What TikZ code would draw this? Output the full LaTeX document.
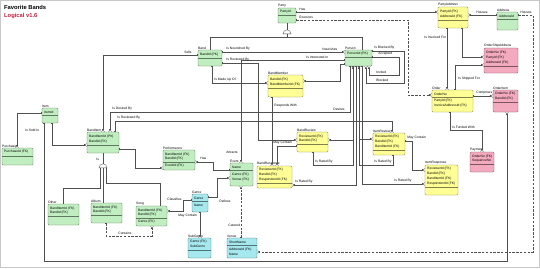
\documentclass[tikz,border=0pt]{standalone}
\usepackage{fontspec}
\setmainfont{Liberation Sans}
\usetikzlibrary{arrows.meta,fit,shapes.geometric}

\definecolor{entGreen}{RGB}{192,238,192}
\definecolor{entYellow}{RGB}{255,255,150}
\definecolor{entPink}{RGB}{244,170,190}
\definecolor{entCyan}{RGB}{165,232,238}
\definecolor{lineGray}{RGB}{80,80,80}
\definecolor{frameGray}{RGB}{200,200,200}
\definecolor{titleRed}{RGB}{190,30,60}

\newcommand{\erfont}{\fontsize{3.3}{3.8}\selectfont}

\tikzset{
  ent/.style={draw=#1!50!black, fill=#1, rounded corners=1.2pt, line width=0.4pt, inner sep=0pt},
  ename/.style={font=\erfont, anchor=south west, inner sep=0pt},
  attr/.style={font=\erfont, anchor=west, inner sep=0pt},
  rlabel/.style={font=\erfont, anchor=south west, inner sep=0.2pt},
  rel/.style={draw=lineGray, line width=0.35pt, {Bar[width=2.8pt]}-{Bar[width=2.8pt] Straight Barb[reversed,length=1.6pt,width=3.2pt]}},
  relDash/.style={rel, dash pattern=on 2.4pt off 1.4pt},
  subLink/.style={draw=lineGray, line width=0.35pt},
  subSym/.style={semicircle, draw=lineGray, line width=0.35pt, fill=white, minimum width=8pt, inner sep=0pt},
}

\begin{document}
\begin{tikzpicture}[x=1pt,y=-1pt]
  \useasboundingbox (0,0) rectangle (540,268);
  \draw[frameGray, line width=0.8pt] (0.4,0.4) rectangle (539.6,267.6);

  % title
  \node[anchor=south west, inner sep=0pt, font=\fontsize{5.8}{6}\selectfont\bfseries] (title) at (4,10) {Favorite Bands};
  \node[anchor=south west, inner sep=0pt, font=\fontsize{5.8}{6}\selectfont\bfseries, text=titleRed] (version) at (4,18.5) {Logical v1.6};

  % entities: name/left/top/right/bottom/colour/separator/title
  \foreach \nm/\xa/\ya/\xb/\yb/\col/\sy/\ttl in {
    party/278/8/296/23/entGreen/15.5/Party,
    band/198/50/222/66/entGreen/58.5/Band,
    person/345/50/372/66/entGreen/57.5/Person,
    partyAddr/438/7/468/28/entYellow/20/PartyAddress,
    address/497/12/518/30/entGreen/19.5/Address,
    orderShip/484/48/518/73/entPink/66.5/OrderShipAddress,
    order/432/90/473/112/entYellow/97/Order,
    orderItem/493/90/518/112/entPink/102/OrderItem,
    payment/470/152/494/172/entPink/164.5/Payment,
    itemResp/425/165/458/195/entYellow/187.5/ItemResponse,
    itemRev/373/133/405/155/entYellow/150.5/ItemReview,
    bandRev/297/132/328/152/entYellow/144.5/BandReview,
    bandResp/257/166/292/188/entYellow/183.5/BandResponse,
    bandMember/268/75/303/97/entYellow/88/BandMember,
    event/230/163/253/186/entGreen/170.5/Event,
    perf/163/150/195/170/entGreen/162/Performance,
    bandItem/87/132/119/153/entGreen/145.5/BandItem,
    item/42/108/58/123/entGreen/115.5/Item,
    purchase/2/148/33/165/entGreen/156/Purchase,
    other/48/204/79/225/entGreen/216.5/Other,
    album/91/203/122/223/entGreen/215.5/Album,
    song/136/206/167/226/entGreen/218/Song,
    genre/192/194/208/212/entCyan/201/Genre,
    subGenre/188/238/211/258/entCyan/250.5/SubGenre,
    venue/227/238/257/258/entCyan/245.5/Venue}{
    \node[ent=\col, fit={(\xa,\ya) (\xb,\yb)}] (\nm) {};
    \node[ename] (\nm-t) at (\xa,\ya-0.7) {\ttl};
    \draw[draw=\col!50!black, line width=0.3pt] (\xa,\sy) -- (\xb,\sy);
  }

  % attributes: x/y/text
  \foreach \x/\y/\txt [count=\k] in {
    280/12/PartyId, 200/54.5/BandId (PK), 347/54/PersonId (PK),
    440/11.5/PartyId (FK), 440/16.5/AddressId (FK), 499/16/AddressId,
    486/52.5/OrderNo (FK), 486/57.5/PartyId (FK), 486/62.5/AddressId (FK),
    434/94/OrderNo, 434/101/PartyId (FK), 434/106/InvoiceAddressId (FK),
    495/94/OrderNo (FK), 495/99/BandId (FK),
    472/156.5/OrderNo (FK), 472/161/SequenceNo,
    427/169/ReviewerId (FK), 427/174/BandId (FK), 427/179/BandItemId (FK), 427/184/RespondentId (FK),
    375/137/ReviewerId (FK), 375/142/BandId (FK), 375/147/BandItemId (FK),
    299/136.5/ReviewerId (FK), 299/141/BandId (FK),
    259/170/ReviewerId (FK), 259/175/BandId (FK), 259/180/RespondentId (FK),
    270/79.5/BandId (FK), 270/84.5/BandMemberId (FK),
    232/167/Name, 232/175/Genre (FK), 232/180/Venue (FK),
    165/154.5/BandItemId (FK), 165/159/BandId (FK), 165/166/EventId (FK),
    89/136.5/BandItemId (PK), 89/141.5/BandId (FK),
    44/112/ItemId, 4/152/PurchaseId (FK),
    50/208.5/BandItemId (FK), 50/213/BandId (FK),
    93/207.5/BandItemId (FK), 93/212/BandId (FK),
    138/210.5/BandItemId (FK), 138/214.5/BandId (FK), 138/222/Genre (FK),
    194/198/Genre, 194/205.5/Name,
    190/242/Genre (FK), 190/246.5/SubGenre,
    229/242/ShortName, 229/249.5/AddressId (FK), 229/254/Name}{
    \node[attr] (row\k) at (\x,\y) {\txt};
  }

  % subtype symbols
  \node[subSym, anchor=chord center] (partySub) at (287,34) {};
  \node[subSym, anchor=chord center] (itemSub) at (103,168) {};
  \draw[subLink] (party.south) -- (partySub.apex);
  \draw[subLink] (partySub.chord center) -- ++(0,3) -| (band.north);
  \draw[subLink] (partySub.chord center) -- ++(0,3) -| (person.north -| 362,0);
  \draw[subLink] (bandItem.south) -- (itemSub.apex);
  \draw[subLink] ([xshift=-3pt]itemSub.chord center) |- (63,188) -- (other.north -| 63,0);
  \draw[subLink] (itemSub.chord center) -- (album.north -| itemSub.chord center);
  \draw[subLink] ([xshift=3pt]itemSub.chord center) |- (160,183) -- (song.north -| 160,0);

  % relationships
  \draw[rel] (party.east |- 0,12) -- (partyAddr.west |- 0,12);
  \draw[relDash] (party.east |- 0,20) -- (408,20) |- (order.west |- 0,95);
  \draw[rel] (address.west |- 0,15) -- (partyAddr.east |- 0,15);
  \draw[relDash] (address.east |- 0,15) -- (533,15) |- (venue.east |- 0,252);
  \draw[rel] (partyAddr.south -| 447,0) -- (order.north -| 447,0);
  \draw[rel] (partyAddr.south -| 462,0) |- (orderShip.west |- 0,57);
  \draw[rel] (order.north -| 455,0) |- (orderShip.west |- 0,65);
  \draw[rel] (order.east |- 0,96) -- (orderItem.west |- 0,96);
  \draw[rel] (order.south -| 450,0) -- (450,130) -| (payment.north -| 482,0);
  \draw[rel] (item.south -| 44,0) -- (44,261) -| (orderItem.south -| 507,0);
  \draw[rel] (item.west |- 0,113) -| (purchase.north -| 17,0);
  \draw[rel] (item.south -| 52,0) |- (bandItem.west |- 0,145);
  \draw[rel] (band.west |- 0,55) -| (bandItem.north -| 103,0);
  \draw[rel] (person.south -| 350,0) -- (350,112) -| (bandItem.north -| 110,0);
  \draw[rel] (bandItem.north -| 115,0) |- (392,121) -- (itemRev.north -| 392,0);
  \draw[rel] (bandItem.east |- 0,149) -- (135,149) |- (perf.west |- 0,168);
  \draw[rel] (event.west |- 0,170) -- (213,170) |- (perf.east |- 0,162);
  \draw[rel] (genre.east |- 0,197) -- (217,197) |- (event.west |- 0,178);
  \draw[relDash] (venue.north -| 241,0) -- (event.south -| 241,0);
  \draw[rel] (genre.west |- 0,200) -- (183,200) |- (song.east |- 0,211);
  \draw[rel] (genre.south -| 200,0) -- (subGenre.north -| 200,0);
  \draw[relDash] (album.south -| 106,0) |- (152,236) -- (song.south -| 152,0);
  \draw[rel] (band.south -| 212,0) |- (bandMember.west |- 0,83);
  \draw[rel] (band.east |- 0,52) -- (person.west |- 0,52);
  \draw[rel] (band.east |- 0,63) -- (258,63) |- (bandRev.west |- 0,140);
  \draw[rel] (person.west |- 0,60) -- (241,60) -- (event.north -| 241,0);
  \draw[rel] (bandMember.south -| 272,0) -- (bandResp.north -| 272,0);
  \draw[rel] (bandRev.west |- 0,146) -- (277,146) -- (bandResp.north -| 277,0);
  \draw[rel] (person.south -| 353,0) |- (bandRev.east |- 0,140);
  \draw[rel] (bandRev.south -| 313,0) |- (353,165) -- (person.south -| 353,0);
  \draw[rel] (person.south -| 356,0) |- (bandResp.east |- 0,185);
  \draw[rel] (person.south -| 359,0) |- (itemRev.west |- 0,139);
  \draw[rel] (itemRev.south -| 393,0) |- (359,165) -- (person.south -| 359,0);
  \draw[rel] (person.south -| 362,0) |- (itemResp.west |- 0,184);
  \draw[rel] (itemRev.east |- 0,141) -- (412,141) |- (itemResp.west |- 0,170);
  \draw[rel] (person.east |- 0,51) -- (404,51) |- (366,83) -- (person.south -| 366,0);
  \draw[rel] (person.east |- 0,57) -- (399,57) |- (369,75) -- (person.south -| 369,0);
  \draw[rel] (person.west |- 0,64) -- (340,64) |- (bandMember.east |- 0,81);

  % relationship labels: x/y/text
  \foreach \x/\y/\txt [count=\k] in {
    184/54/Sells, 226/51/Is Nourished By, 322/51/Nourishes,
    226/62/Is Reviewed By, 306/59/Is Interested In, 226/154/Attracts,
    214/82/Is Made Up Of, 274/108/Responds With, 333/111/Desires,
    112/111/Is Desired By, 117/120/Is Reviewed By, 273/145/May Contain,
    315/164/Is Rated By, 374/164/Is Rated By, 295/184/Is Rated By,
    394/183/Is Rated By, 407/140/May Contain, 374/50/Is Blocked By,
    378/56/Accepted, 376/74/Invited, 376/82/Blocked,
    299/11/Has, 299/19/Executes, 424/39/Is Invoiced For,
    476/14/Houses, 520/14/Houses, 458/81/Is Shipped For,
    476/95/Comprises, 452/129/Is Funded With, 25/132/Is Sold In,
    96/161/Is, 200/160/Has, 219/203/Defines, 167/201/Classifies,
    178/218/May Contain, 228/227/Catered, 118/235/Contains}{
    \node[rlabel] (lab\k) at (\x,\y) {\txt};
  }
\end{tikzpicture}
\end{document}
